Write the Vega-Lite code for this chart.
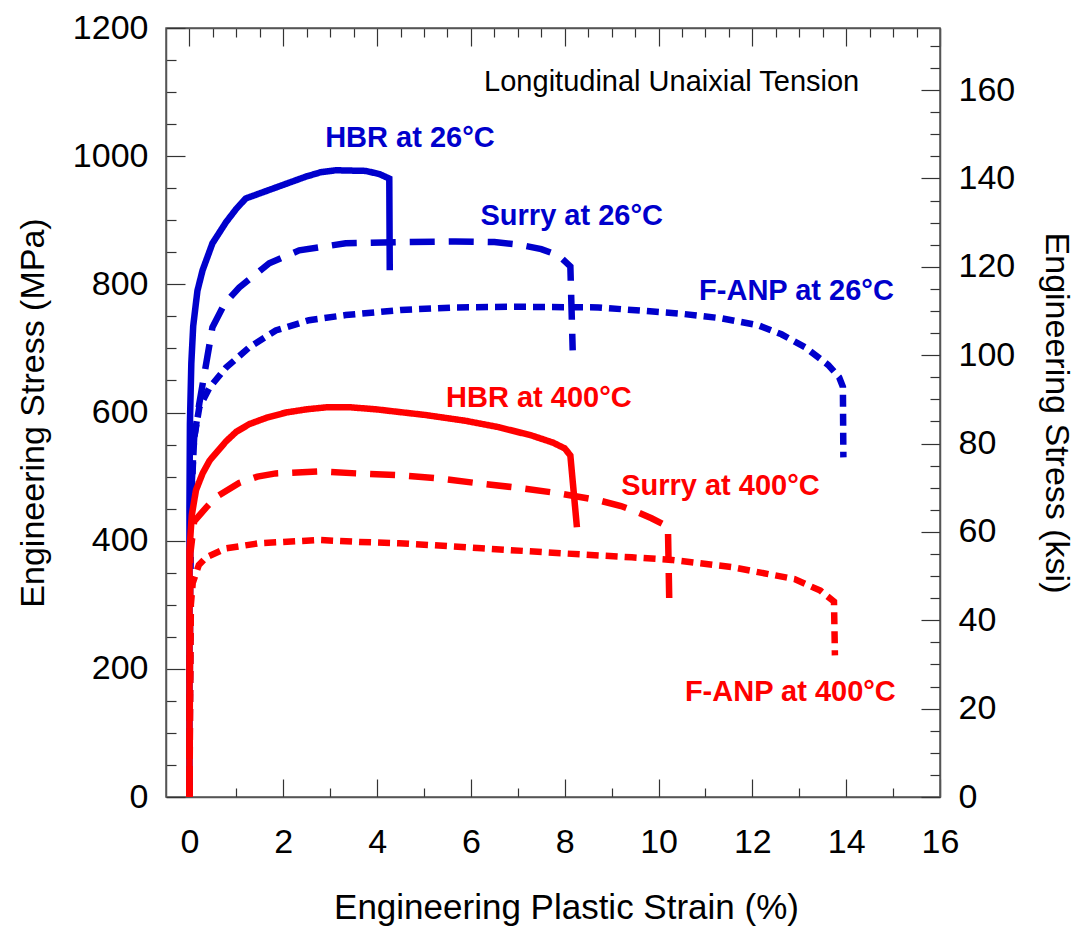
{
  "$schema": "https://vega.github.io/schema/vega-lite/v6.json",
  "width": 774,
  "height": 769,
  "autosize": {"type": "none"},
  "padding": {"left": 166, "top": 28, "right": 143, "bottom": 129},
  "background": "white",
  "config": {
    "view": {"stroke": "#555", "strokeWidth": 1.5},
    "font": "Liberation Sans",
    "axis": {"grid": false, "domainColor": "#555", "domainWidth": 1.5, "tickColor": "#333", "tickWidth": 1.2, "labelFont": "Liberation Sans", "titleFont": "Liberation Sans", "labelColor": "black", "titleColor": "black", "titleFontWeight": "normal", "labelFontSize": 34, "titleFontSize": 34}
  },
  "datasets": {
    "curves": [
      {"alloy": "HBR", "temp": "26°C", "i": 0, "strain": 0, "stress": 0},
      {"alloy": "HBR", "temp": "26°C", "i": 1, "strain": 0.0, "stress": 450},
      {"alloy": "HBR", "temp": "26°C", "i": 2, "strain": 0.01, "stress": 583},
      {"alloy": "HBR", "temp": "26°C", "i": 3, "strain": 0.04, "stress": 677},
      {"alloy": "HBR", "temp": "26°C", "i": 4, "strain": 0.08, "stress": 735},
      {"alloy": "HBR", "temp": "26°C", "i": 5, "strain": 0.17, "stress": 790},
      {"alloy": "HBR", "temp": "26°C", "i": 6, "strain": 0.28, "stress": 822},
      {"alloy": "HBR", "temp": "26°C", "i": 7, "strain": 0.49, "stress": 864},
      {"alloy": "HBR", "temp": "26°C", "i": 8, "strain": 0.78, "stress": 897},
      {"alloy": "HBR", "temp": "26°C", "i": 9, "strain": 1.0, "stress": 918},
      {"alloy": "HBR", "temp": "26°C", "i": 10, "strain": 1.2, "stress": 934},
      {"alloy": "HBR", "temp": "26°C", "i": 11, "strain": 2.48, "stress": 968},
      {"alloy": "HBR", "temp": "26°C", "i": 12, "strain": 2.8, "stress": 975},
      {"alloy": "HBR", "temp": "26°C", "i": 13, "strain": 3.12, "stress": 978},
      {"alloy": "HBR", "temp": "26°C", "i": 14, "strain": 3.76, "stress": 977},
      {"alloy": "HBR", "temp": "26°C", "i": 15, "strain": 4.05, "stress": 972},
      {"alloy": "HBR", "temp": "26°C", "i": 16, "strain": 4.26, "stress": 965},
      {"alloy": "HBR", "temp": "26°C", "i": 17, "strain": 4.27, "stress": 822},
      {"alloy": "Surry", "temp": "26°C", "i": 0, "strain": 0, "stress": 0},
      {"alloy": "Surry", "temp": "26°C", "i": 1, "strain": 0.02, "stress": 450},
      {"alloy": "Surry", "temp": "26°C", "i": 2, "strain": 0.1, "stress": 560},
      {"alloy": "Surry", "temp": "26°C", "i": 3, "strain": 0.21, "stress": 614},
      {"alloy": "Surry", "temp": "26°C", "i": 4, "strain": 0.49, "stress": 733},
      {"alloy": "Surry", "temp": "26°C", "i": 5, "strain": 0.75, "stress": 770},
      {"alloy": "Surry", "temp": "26°C", "i": 6, "strain": 1.06, "stress": 795},
      {"alloy": "Surry", "temp": "26°C", "i": 7, "strain": 1.7, "stress": 833},
      {"alloy": "Surry", "temp": "26°C", "i": 8, "strain": 2.34, "stress": 853},
      {"alloy": "Surry", "temp": "26°C", "i": 9, "strain": 3.33, "stress": 864},
      {"alloy": "Surry", "temp": "26°C", "i": 10, "strain": 4.5, "stress": 866},
      {"alloy": "Surry", "temp": "26°C", "i": 11, "strain": 5.67, "stress": 867},
      {"alloy": "Surry", "temp": "26°C", "i": 12, "strain": 6.5, "stress": 866},
      {"alloy": "Surry", "temp": "26°C", "i": 13, "strain": 7.02, "stress": 862},
      {"alloy": "Surry", "temp": "26°C", "i": 14, "strain": 7.5, "stress": 855},
      {"alloy": "Surry", "temp": "26°C", "i": 15, "strain": 7.87, "stress": 845},
      {"alloy": "Surry", "temp": "26°C", "i": 16, "strain": 8.12, "stress": 828},
      {"alloy": "Surry", "temp": "26°C", "i": 17, "strain": 8.17, "stress": 697},
      {"alloy": "F-ANP", "temp": "26°C", "i": 0, "strain": 0, "stress": 0},
      {"alloy": "F-ANP", "temp": "26°C", "i": 1, "strain": 0.03, "stress": 450},
      {"alloy": "F-ANP", "temp": "26°C", "i": 2, "strain": 0.1, "stress": 560},
      {"alloy": "F-ANP", "temp": "26°C", "i": 3, "strain": 0.21, "stress": 608},
      {"alloy": "F-ANP", "temp": "26°C", "i": 4, "strain": 0.43, "stress": 639},
      {"alloy": "F-ANP", "temp": "26°C", "i": 5, "strain": 0.78, "stress": 670},
      {"alloy": "F-ANP", "temp": "26°C", "i": 6, "strain": 1.28, "stress": 702},
      {"alloy": "F-ANP", "temp": "26°C", "i": 7, "strain": 1.84, "stress": 728},
      {"alloy": "F-ANP", "temp": "26°C", "i": 8, "strain": 2.55, "stress": 744},
      {"alloy": "F-ANP", "temp": "26°C", "i": 9, "strain": 3.33, "stress": 752},
      {"alloy": "F-ANP", "temp": "26°C", "i": 10, "strain": 4.5, "stress": 760},
      {"alloy": "F-ANP", "temp": "26°C", "i": 11, "strain": 5.67, "stress": 764},
      {"alloy": "F-ANP", "temp": "26°C", "i": 12, "strain": 7.0, "stress": 765},
      {"alloy": "F-ANP", "temp": "26°C", "i": 13, "strain": 8.72, "stress": 764},
      {"alloy": "F-ANP", "temp": "26°C", "i": 14, "strain": 10.5, "stress": 754},
      {"alloy": "F-ANP", "temp": "26°C", "i": 15, "strain": 11.34, "stress": 747},
      {"alloy": "F-ANP", "temp": "26°C", "i": 16, "strain": 12.13, "stress": 736},
      {"alloy": "F-ANP", "temp": "26°C", "i": 17, "strain": 12.62, "stress": 722},
      {"alloy": "F-ANP", "temp": "26°C", "i": 18, "strain": 13.12, "stress": 702},
      {"alloy": "F-ANP", "temp": "26°C", "i": 19, "strain": 13.62, "stress": 674},
      {"alloy": "F-ANP", "temp": "26°C", "i": 20, "strain": 13.85, "stress": 655},
      {"alloy": "F-ANP", "temp": "26°C", "i": 21, "strain": 13.93, "stress": 640},
      {"alloy": "F-ANP", "temp": "26°C", "i": 22, "strain": 13.94, "stress": 530},
      {"alloy": "HBR", "temp": "400°C", "i": 0, "strain": 0, "stress": 0},
      {"alloy": "HBR", "temp": "400°C", "i": 1, "strain": 0.0, "stress": 385},
      {"alloy": "HBR", "temp": "400°C", "i": 2, "strain": 0.05, "stress": 440},
      {"alloy": "HBR", "temp": "400°C", "i": 3, "strain": 0.14, "stress": 479},
      {"alloy": "HBR", "temp": "400°C", "i": 4, "strain": 0.28, "stress": 505},
      {"alloy": "HBR", "temp": "400°C", "i": 5, "strain": 0.43, "stress": 525},
      {"alloy": "HBR", "temp": "400°C", "i": 6, "strain": 0.78, "stress": 555},
      {"alloy": "HBR", "temp": "400°C", "i": 7, "strain": 1.0, "stress": 570},
      {"alloy": "HBR", "temp": "400°C", "i": 8, "strain": 1.28, "stress": 582},
      {"alloy": "HBR", "temp": "400°C", "i": 9, "strain": 1.65, "stress": 592},
      {"alloy": "HBR", "temp": "400°C", "i": 10, "strain": 2.06, "stress": 600},
      {"alloy": "HBR", "temp": "400°C", "i": 11, "strain": 2.5, "stress": 605},
      {"alloy": "HBR", "temp": "400°C", "i": 12, "strain": 2.91, "stress": 608},
      {"alloy": "HBR", "temp": "400°C", "i": 13, "strain": 3.45, "stress": 608},
      {"alloy": "HBR", "temp": "400°C", "i": 14, "strain": 3.97, "stress": 605},
      {"alloy": "HBR", "temp": "400°C", "i": 15, "strain": 5.04, "stress": 596},
      {"alloy": "HBR", "temp": "400°C", "i": 16, "strain": 5.89, "stress": 587},
      {"alloy": "HBR", "temp": "400°C", "i": 17, "strain": 6.6, "stress": 577},
      {"alloy": "HBR", "temp": "400°C", "i": 18, "strain": 7.3, "stress": 564},
      {"alloy": "HBR", "temp": "400°C", "i": 19, "strain": 7.75, "stress": 553},
      {"alloy": "HBR", "temp": "400°C", "i": 20, "strain": 8.0, "stress": 544},
      {"alloy": "HBR", "temp": "400°C", "i": 21, "strain": 8.12, "stress": 533},
      {"alloy": "HBR", "temp": "400°C", "i": 22, "strain": 8.26, "stress": 421},
      {"alloy": "Surry", "temp": "400°C", "i": 0, "strain": 0, "stress": 0},
      {"alloy": "Surry", "temp": "400°C", "i": 1, "strain": 0.02, "stress": 380},
      {"alloy": "Surry", "temp": "400°C", "i": 2, "strain": 0.1, "stress": 430},
      {"alloy": "Surry", "temp": "400°C", "i": 3, "strain": 0.36, "stress": 452},
      {"alloy": "Surry", "temp": "400°C", "i": 4, "strain": 0.57, "stress": 468},
      {"alloy": "Surry", "temp": "400°C", "i": 5, "strain": 1.06, "stress": 490},
      {"alloy": "Surry", "temp": "400°C", "i": 6, "strain": 1.45, "stress": 500},
      {"alloy": "Surry", "temp": "400°C", "i": 7, "strain": 1.84, "stress": 505},
      {"alloy": "Surry", "temp": "400°C", "i": 8, "strain": 2.77, "stress": 508},
      {"alloy": "Surry", "temp": "400°C", "i": 9, "strain": 3.55, "stress": 505},
      {"alloy": "Surry", "temp": "400°C", "i": 10, "strain": 4.47, "stress": 502},
      {"alloy": "Surry", "temp": "400°C", "i": 11, "strain": 5.32, "stress": 497},
      {"alloy": "Surry", "temp": "400°C", "i": 12, "strain": 6.1, "stress": 490},
      {"alloy": "Surry", "temp": "400°C", "i": 13, "strain": 6.95, "stress": 483},
      {"alloy": "Surry", "temp": "400°C", "i": 14, "strain": 7.87, "stress": 474},
      {"alloy": "Surry", "temp": "400°C", "i": 15, "strain": 8.72, "stress": 463},
      {"alloy": "Surry", "temp": "400°C", "i": 16, "strain": 9.2, "stress": 454},
      {"alloy": "Surry", "temp": "400°C", "i": 17, "strain": 9.57, "stress": 444},
      {"alloy": "Surry", "temp": "400°C", "i": 18, "strain": 9.85, "stress": 435},
      {"alloy": "Surry", "temp": "400°C", "i": 19, "strain": 10.2, "stress": 422},
      {"alloy": "Surry", "temp": "400°C", "i": 20, "strain": 10.23, "stress": 300},
      {"alloy": "F-ANP", "temp": "400°C", "i": 0, "strain": 0, "stress": 0},
      {"alloy": "F-ANP", "temp": "400°C", "i": 1, "strain": 0.03, "stress": 300},
      {"alloy": "F-ANP", "temp": "400°C", "i": 2, "strain": 0.07, "stress": 334},
      {"alloy": "F-ANP", "temp": "400°C", "i": 3, "strain": 0.2, "stress": 362},
      {"alloy": "F-ANP", "temp": "400°C", "i": 4, "strain": 0.36, "stress": 374},
      {"alloy": "F-ANP", "temp": "400°C", "i": 5, "strain": 0.78, "stress": 388},
      {"alloy": "F-ANP", "temp": "400°C", "i": 6, "strain": 1.49, "stress": 396},
      {"alloy": "F-ANP", "temp": "400°C", "i": 7, "strain": 2.77, "stress": 401},
      {"alloy": "F-ANP", "temp": "400°C", "i": 8, "strain": 3.62, "stress": 398},
      {"alloy": "F-ANP", "temp": "400°C", "i": 9, "strain": 4.47, "stress": 396},
      {"alloy": "F-ANP", "temp": "400°C", "i": 10, "strain": 5.17, "stress": 393},
      {"alloy": "F-ANP", "temp": "400°C", "i": 11, "strain": 6.23, "stress": 388},
      {"alloy": "F-ANP", "temp": "400°C", "i": 12, "strain": 8.01, "stress": 380},
      {"alloy": "F-ANP", "temp": "400°C", "i": 13, "strain": 9.43, "stress": 374},
      {"alloy": "F-ANP", "temp": "400°C", "i": 14, "strain": 10.28, "stress": 370},
      {"alloy": "F-ANP", "temp": "400°C", "i": 15, "strain": 11.55, "stress": 359},
      {"alloy": "F-ANP", "temp": "400°C", "i": 16, "strain": 12.9, "stress": 340},
      {"alloy": "F-ANP", "temp": "400°C", "i": 17, "strain": 13.45, "stress": 322},
      {"alloy": "F-ANP", "temp": "400°C", "i": 18, "strain": 13.74, "stress": 305},
      {"alloy": "F-ANP", "temp": "400°C", "i": 19, "strain": 13.76, "stress": 221}
    ],
    "labels": [
      {"label": "HBR at 26°C", "temp": "26°C", "strain": 4.7, "stress": 1029},
      {"label": "Surry at 26°C", "temp": "26°C", "strain": 8.15, "stress": 906},
      {"label": "F-ANP at 26°C", "temp": "26°C", "strain": 12.94, "stress": 790},
      {"label": "HBR at 400°C", "temp": "400°C", "strain": 7.45, "stress": 622},
      {"label": "Surry at 400°C", "temp": "400°C", "strain": 11.32, "stress": 486},
      {"label": "F-ANP at 400°C", "temp": "400°C", "strain": 12.81, "stress": 164}
    ],
    "note": [
      {"label": "Longitudinal Unaixial Tension", "strain": 10.28, "stress": 1115}
    ],
    "ksiRange": [
      {"strain": 0, "ksi": 0},
      {"strain": 16, "ksi": 174.05}
    ]
  },
  "layer": [
    {
      "data": {"name": "curves"},
      "mark": {"type": "line", "strokeWidth": 6.5, "clip": true},
      "encoding": {
        "x": {
          "field": "strain", "type": "quantitative",
          "scale": {"domain": [-0.5, 16], "nice": false, "zero": false},
          "axis": {
            "orient": "bottom",
            "title": "Engineering Plastic Strain (%)",
            "titleFontSize": 35,
            "titleX": 400,
            "format": "d",
            "values": [0,0.5,1,1.5,2,2.5,3,3.5,4,4.5,5,5.5,6,6.5,7,7.5,8,8.5,9,9.5,10,10.5,11,11.5,12,12.5,13,13.5,14,14.5,15,15.5,16],
            "labelExpr": "datum.value % 2 === 0 ? datum.label : ''",
            "tickSize": {"condition": {"test": "datum.value % 2 === 0", "value": -18}, "value": -9},
            "labelPadding": 46,
            "titlePadding": 22,
            "labelFlush": false,
            "labelOverlap": false
          }
        },
        "y": {
          "field": "stress", "type": "quantitative",
          "scale": {"domain": [0, 1200], "nice": false},
          "axis": {
            "orient": "left",
            "title": "Engineering Stress (MPa)",
            "format": "d",
            "values": [0,50,100,150,200,250,300,350,400,450,500,550,600,650,700,750,800,850,900,950,1000,1050,1100,1150,1200],
            "labelExpr": "datum.value % 200 === 0 ? datum.label : ''",
            "tickSize": {"condition": {"test": "datum.value % 200 === 0", "value": -19}, "value": -10},
            "labelPadding": 37,
            "titlePadding": 22,
            "labelFlush": false,
            "labelOverlap": false
          }
        },
        "color": {"field": "temp", "type": "nominal", "scale": {"domain": ["26°C", "400°C"], "range": ["#0000cc", "#ff0000"]}, "legend": null},
        "strokeDash": {"field": "alloy", "type": "nominal", "scale": {"domain": ["HBR", "Surry", "F-ANP"], "range": [[1, 0], [25, 14], [12, 7]]}, "legend": null},
        "order": {"field": "i", "type": "quantitative"}
      }
    },
    {
      "data": {"name": "labels"},
      "mark": {"type": "text", "font": "Liberation Sans", "fontWeight": "bold", "fontSize": 29, "align": "center", "baseline": "middle"},
      "encoding": {
        "x": {"field": "strain", "type": "quantitative", "scale": {"domain": [-0.5, 16], "nice": false, "zero": false}, "axis": null},
        "y": {"field": "stress", "type": "quantitative", "scale": {"domain": [0, 1200], "nice": false}, "axis": null},
        "text": {"field": "label"},
        "color": {"field": "temp", "type": "nominal", "scale": {"domain": ["26°C", "400°C"], "range": ["#0000cc", "#ff0000"]}, "legend": null}
      }
    },
    {
      "data": {"name": "note"},
      "mark": {"type": "text", "font": "Liberation Sans", "fontSize": 29, "align": "center", "baseline": "middle", "color": "black"},
      "encoding": {
        "x": {"field": "strain", "type": "quantitative", "scale": {"domain": [-0.5, 16], "nice": false, "zero": false}, "axis": null},
        "y": {"field": "stress", "type": "quantitative", "scale": {"domain": [0, 1200], "nice": false}, "axis": null},
        "text": {"field": "label"}
      }
    },
    {
      "data": {"name": "ksiRange"},
      "mark": {"type": "point", "opacity": 0},
      "encoding": {
        "x": {
          "field": "strain", "type": "quantitative",
          "scale": {"domain": [-0.5, 16], "nice": false, "zero": false},
          "axis": {
            "orient": "top",
            "title": null,
            "labels": false,
            "values": [0,0.5,1,1.5,2,2.5,3,3.5,4,4.5,5,5.5,6,6.5,7,7.5,8,8.5,9,9.5,10,10.5,11,11.5,12,12.5,13,13.5,14,14.5,15,15.5,16],
            "tickSize": {"condition": {"test": "datum.value % 2 === 0", "value": -18}, "value": -9}
          }
        },
        "y": {
          "field": "ksi", "type": "quantitative",
          "scale": {"domain": [0, 174.05], "nice": false},
          "axis": {
            "orient": "right",
            "title": "Engineering Stress (ksi)",
            "format": "d",
            "values": [0,5,10,15,20,25,30,35,40,45,50,55,60,65,70,75,80,85,90,95,100,105,110,115,120,125,130,135,140,145,150,155,160,165,170],
            "labelExpr": "datum.value % 20 === 0 ? datum.label : ''",
            "tickSize": {"condition": {"test": "datum.value % 20 === 0", "value": -19}, "value": -10},
            "labelPadding": 37,
            "titlePadding": 24,
            "labelFlush": false,
            "labelOverlap": false
          }
        }
      }
    }
  ],
  "resolve": {
    "scale": {"y": "independent"},
    "axis": {"x": "independent", "y": "independent"}
  }
}
